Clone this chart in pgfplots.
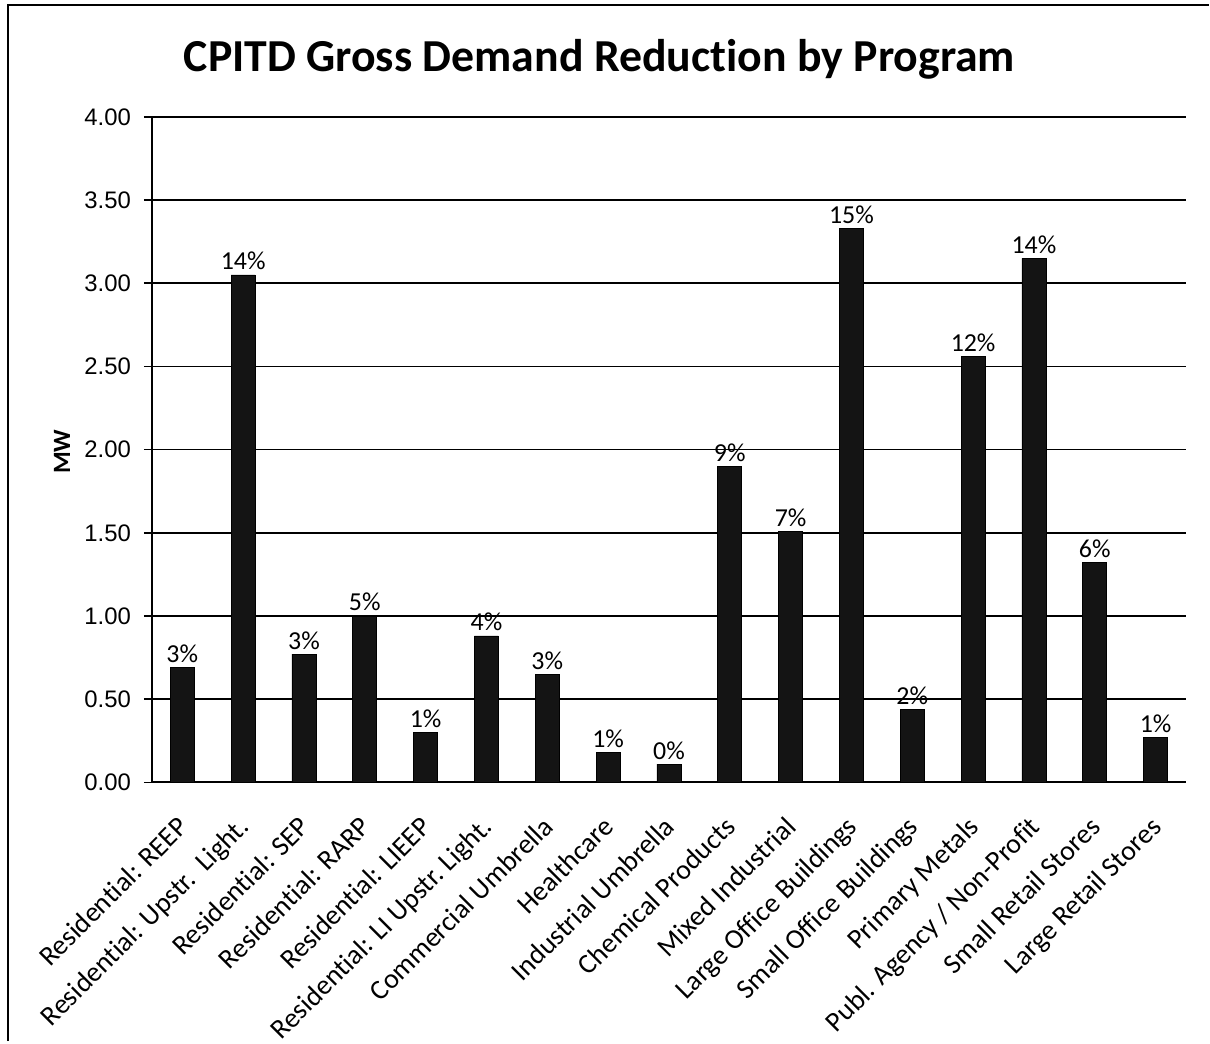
\documentclass[border=0pt]{standalone}
\usepackage{pgfplots}
\pgfplotsset{compat=1.18}
\usepackage{fontspec}
\setmainfont[Ligatures={NoCommon}]{Carlito}
\newfontfamily\arialfont{Liberation Sans}

\begin{document}
\begin{tikzpicture}
\begin{axis}[
  scale only axis,
  width=517.5bp, height=333bp,
  ybar, bar width=12bp,
  xmin=-0.5, xmax=16.5,
  ymin=0, ymax=4,
  ytick={0,0.5,...,4},
  axis y line=left, axis x line=bottom,
  axis line style={line width=0.9bp, -},
  ymajorgrids, grid style={black, line width=0.8bp},
  tick align=outside, major tick length=4bp,
  xtick=data, xtick style={draw=none},
  ytick style={black, line width=0.8bp},
  xticklabels={
    Residential: REEP,
    Residential: Upstr.\ \ Light.,
    Residential: SEP,
    Residential: RARP,
    Residential: LIEEP,
    Residential: LI Upstr.\ Light.,
    Commercial Umbrella,
    Healthcare,
    Industrial Umbrella,
    Chemical Products,
    Mixed Industrial,
    Large Office Buildings,
    Small Office Buildings,
    Primary Metals,
    Publ. Agency / Non-Profit,
    Small Retail Stores,
    Large Retail Stores},
  xticklabel style={xshift=-3.25bp, yshift=-12bp, rotate=45, anchor=north east,
    inner sep=0pt, font=\fontsize{14}{16}\selectfont},
  /pgf/number format/assume math mode=true,
  yticklabel style={font=\arialfont\fontsize{12}{14}\selectfont, xshift=-3bp,
    /pgf/number format/.cd, fixed, fixed zerofill, precision=2},
  ylabel={\textbf{MW}},
  ylabel style={at={(rel axis cs:-0.08696,0.497)}, anchor=center,
    font=\fontsize{12.5}{14}\selectfont},
  title={\textbf{CPITD Gross Demand Reduction by Program}},
  title style={at={(rel axis cs:0.43285,1.06757)}, anchor=base, yshift=-6pt,
    font=\fontsize{23}{26}\selectfont},
  point meta=explicit,
  nodes near coords={\pgfmathprintnumber{\pgfplotspointmeta}\%},
  every node near coord/.append style={anchor=base, yshift=2.5bp, inner sep=0pt,
    font=\fontsize{13}{15}\selectfont, black},
  clip=false,
]
\addplot[fill=black!92, draw=black] coordinates {
  (0,0.69) [3]
  (1,3.05) [14]
  (2,0.77) [3]
  (3,1.00) [5]
  (4,0.30) [1]
  (5,0.88) [4]
  (6,0.65) [3]
  (7,0.18) [1]
  (8,0.11) [0]
  (9,1.90) [9]
  (10,1.51) [7]
  (11,3.33) [15]
  (12,0.44) [2]
  (13,2.56) [12]
  (14,3.15) [14]
  (15,1.32) [6]
  (16,0.27) [1]
};
\path (rel axis cs:-0.14686,-0.38889) rectangle (rel axis cs:1.02222,1.17568);
\draw[line width=1bp] (rel axis cs:-0.13913,-0.38889) -- (rel axis cs:-0.13913,1.16817) -- (rel axis cs:1.02222,1.16817);
\end{axis}
\end{tikzpicture}
\end{document}
